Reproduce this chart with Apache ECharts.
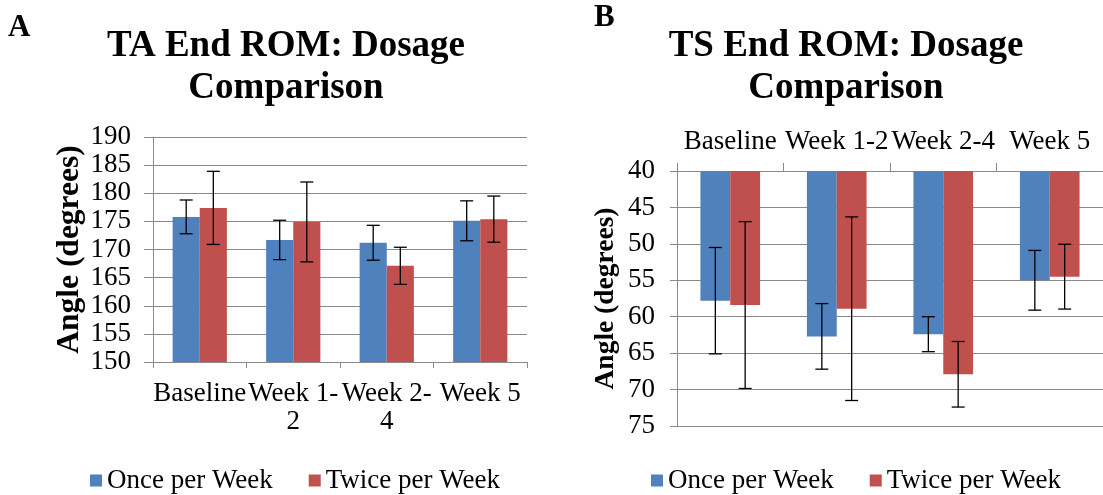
<!DOCTYPE html>
<html>
<head>
<meta charset="utf-8">
<script src="https://cdn.jsdelivr.net/npm/echarts@6/dist/echarts.min.js"></script>
<style>
  html, body { margin: 0; padding: 0; background: #fff; }
  #chart { width: 1103px; height: 495px; }
</style>
</head>
<body>
<div id="chart"></div>
<script>
// categories and tick labels
const categories = ['Baseline', 'Week 1-2', 'Week 2-4', 'Week 5'];
const aTickLabels = ['Baseline', 'Week 1-\n2', 'Week 2-\n4', 'Week 5'];
const seriesNames = ['Once per Week', 'Twice per Week'];

// panel A: TA end ROM (mean, error)
const aOnce = [175.8, 171.7, 171.2, 175.1];
const aOnceErr = [3.0, 3.5, 3.1, 3.55];
const aTwice = [177.4, 174.9, 167.1, 175.4];
const aTwiceErr = [6.5, 7.1, 3.3, 4.1];

// panel B: TS end ROM (mean, error)
const bOnce = [57.8, 62.7, 62.4, 55.0];
const bOnceErr = [7.3, 4.5, 2.4, 4.1];
const bTwice = [58.4, 58.9, 67.9, 54.5];
const bTwiceErr = [11.45, 12.6, 4.5, 4.45];

const BLUE = '#4f81bd';
const RED = '#c0504d';
const GRID = '#8a8a8a';
const FONT = 'Liberation Serif';
const GAP_A = 0.42;
const GAP_B = 0.44;

const chart = echarts.init(document.getElementById('chart'));

// error bar drawn at the centre of one of the two bars of a category
function errorBars(gap, side) {
  return function (params, api) {
    const idx = api.value(0);
    const lo = api.coord([idx, api.value(1)]);
    const hi = api.coord([idx, api.value(2)]);
    const band = api.size([1, 0])[0];
    const bw = band * (1 - gap) / 2;
    const cx = lo[0] + side * bw / 2;
    const half = 6.5;
    const style = { stroke: '#000', lineWidth: 1.3 };
    return {
      type: 'group',
      children: [
        { type: 'line', shape: { x1: cx, y1: lo[1], x2: cx, y2: hi[1] }, style },
        { type: 'line', shape: { x1: cx - half, y1: lo[1], x2: cx + half, y2: lo[1] }, style },
        { type: 'line', shape: { x1: cx - half, y1: hi[1], x2: cx + half, y2: hi[1] }, style }
      ]
    };
  };
}

const errData = (vals, errs) => vals.map((v, i) => [i, v - errs[i], v + errs[i]]);

const legendBase = {
  data: seriesNames,
  icon: 'rect',
  itemWidth: 12,
  itemHeight: 12,
  itemGap: 36,
  top: 462,
  textStyle: { fontFamily: FONT, fontSize: 27, color: '#000' }
};

const option = {
  animation: false,
  backgroundColor: '#fff',
  textStyle: { fontFamily: FONT },
  title: [
    {
      text: 'TA End ROM: Dosage\nComparison',
      left: 286, top: 25, padding: 0, textAlign: 'center',
      textStyle: { fontFamily: FONT, fontSize: 37, fontWeight: 'bold', color: '#000', lineHeight: 42 }
    },
    {
      text: 'TS End ROM: Dosage\nComparison',
      left: 846, top: 25, padding: 0, textAlign: 'center',
      textStyle: { fontFamily: FONT, fontSize: 37, fontWeight: 'bold', color: '#000', lineHeight: 42 }
    },
    {
      text: 'A', left: 8, top: 12, padding: 0,
      textStyle: { fontFamily: FONT, fontSize: 31, fontWeight: 'bold', color: '#000' }
    },
    {
      text: 'B', left: 594, top: 2, padding: 0,
      textStyle: { fontFamily: FONT, fontSize: 31, fontWeight: 'bold', color: '#000' }
    }
  ],
  legend: [
    Object.assign({ left: 85 }, legendBase),
    Object.assign({ left: 646 }, legendBase)
  ],
  grid: [
    { left: 153, top: 137, width: 374, height: 225 },
    { left: 677, top: 171, width: 429, height: 255 }
  ],
  xAxis: [
    {
      type: 'category', gridIndex: 0, data: categories,
      axisLine: { lineStyle: { color: GRID } },
      axisTick: { show: true, length: 6, lineStyle: { color: GRID } },
      axisLabel: {
        interval: 0, margin: 18, color: '#000', fontFamily: FONT, fontSize: 27, lineHeight: 28,
        formatter: (v, i) => aTickLabels[i]
      }
    },
    {
      type: 'category', gridIndex: 1, data: categories, position: 'top',
      axisLine: { lineStyle: { color: GRID } },
      axisTick: { show: true, length: 8, lineStyle: { color: GRID } },
      axisLabel: { interval: 0, margin: 16, color: '#000', fontFamily: FONT, fontSize: 27 }
    }
  ],
  yAxis: [
    {
      type: 'value', gridIndex: 0, min: 150, max: 190, interval: 5,
      name: 'Angle (degrees)', nameLocation: 'middle', nameGap: 67, nameRotate: 90,
      nameTextStyle: { fontFamily: FONT, fontSize: 31.5, fontWeight: 'bold', color: '#000' },
      axisLine: { show: true, lineStyle: { color: GRID } },
      axisTick: { show: true, length: 9, lineStyle: { color: GRID } },
      splitLine: { lineStyle: { color: GRID } },
      axisLabel: { margin: 22, color: '#000', fontFamily: FONT, fontSize: 27 }
    },
    {
      type: 'value', gridIndex: 1, min: 40, max: 75, interval: 5, inverse: true,
      name: 'Angle (degrees)', nameLocation: 'middle', nameGap: 57, nameRotate: 90,
      nameTextStyle: { fontFamily: FONT, fontSize: 27.5, fontWeight: 'bold', color: '#000' },
      axisLine: { show: true, lineStyle: { color: GRID } },
      axisTick: { show: true, length: 7, lineStyle: { color: GRID } },
      splitLine: { lineStyle: { color: GRID } },
      axisLabel: { margin: 22, color: '#000', fontFamily: FONT, fontSize: 27 }
    }
  ],
  series: [
    {
      name: seriesNames[0], type: 'bar', xAxisIndex: 0, yAxisIndex: 0,
      data: aOnce, barGap: '0%', barCategoryGap: GAP_A * 100 + '%',
      itemStyle: { color: BLUE }
    },
    {
      name: seriesNames[1], type: 'bar', xAxisIndex: 0, yAxisIndex: 0,
      data: aTwice, barGap: '0%', barCategoryGap: GAP_A * 100 + '%',
      itemStyle: { color: RED }
    },
    {
      name: seriesNames[0], type: 'bar', xAxisIndex: 1, yAxisIndex: 1,
      data: bOnce, barGap: '0%', barCategoryGap: GAP_B * 100 + '%',
      itemStyle: { color: BLUE }
    },
    {
      name: seriesNames[1], type: 'bar', xAxisIndex: 1, yAxisIndex: 1,
      data: bTwice, barGap: '0%', barCategoryGap: GAP_B * 100 + '%',
      itemStyle: { color: RED }
    },
    {
      type: 'custom', xAxisIndex: 0, yAxisIndex: 0, z: 5,
      renderItem: errorBars(GAP_A, -1), data: errData(aOnce, aOnceErr)
    },
    {
      type: 'custom', xAxisIndex: 0, yAxisIndex: 0, z: 5,
      renderItem: errorBars(GAP_A, 1), data: errData(aTwice, aTwiceErr)
    },
    {
      type: 'custom', xAxisIndex: 1, yAxisIndex: 1, z: 5,
      renderItem: errorBars(GAP_B, -1), data: errData(bOnce, bOnceErr)
    },
    {
      type: 'custom', xAxisIndex: 1, yAxisIndex: 1, z: 5,
      renderItem: errorBars(GAP_B, 1), data: errData(bTwice, bTwiceErr)
    }
  ]
};

chart.setOption(option);
</script>
</body>
</html>
